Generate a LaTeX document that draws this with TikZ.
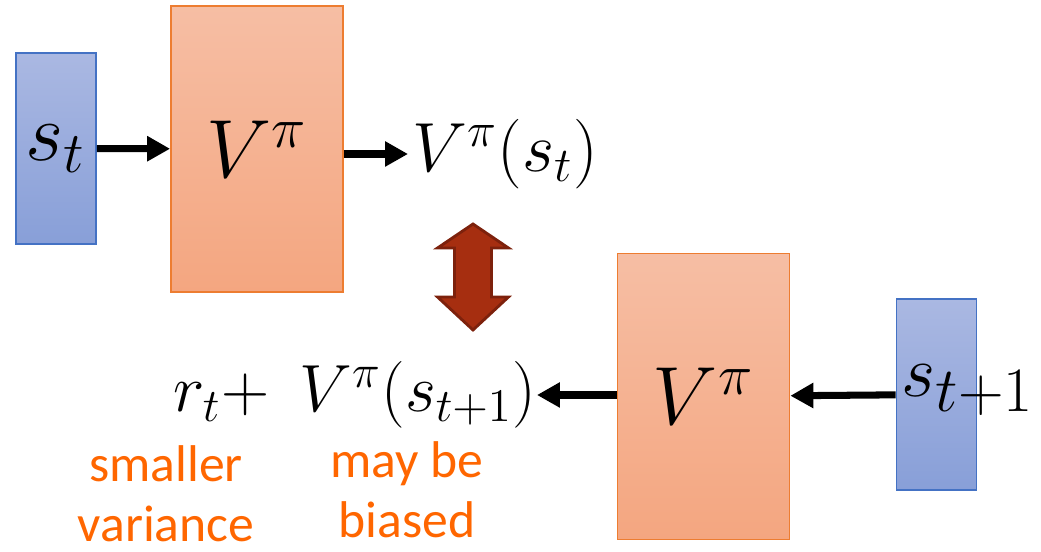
\RequirePackage{fix-cm}
\documentclass[tikz,border=0pt]{standalone}
\usepackage{fontspec}
\newfontfamily\notefont{Carlito}
\usetikzlibrary{arrows.meta}
\definecolor{statetop}{RGB}{170,184,226}
\definecolor{statebot}{RGB}{136,159,216}
\definecolor{stateedge}{RGB}{68,114,196}
\definecolor{critictop}{RGB}{246,190,164}
\definecolor{criticbot}{RGB}{244,166,128}
\definecolor{criticedge}{RGB}{237,125,49}
\definecolor{cmpfill}{RGB}{166,46,16}
\definecolor{cmpedge}{RGB}{125,33,12}
\definecolor{noteorange}{RGB}{255,102,0}

\begin{document}
\begin{tikzpicture}[>={Triangle[length=0.23cm,width=0.24cm]},
    state/.style={draw=stateedge, line width=0.5pt, top color=statetop, bottom color=statebot,
        minimum width=0.8cm, minimum height=1.91cm, inner sep=0pt},
    critic/.style={draw=criticedge, line width=0.5pt, top color=critictop, bottom color=criticbot,
        minimum width=1.72cm, minimum height=2.86cm, inner sep=0pt,
        font=\fontsize{23.5}{28}\selectfont},
    feed/.style={->, line width=2pt},
    note/.style={text=noteorange, font=\notefont\fontsize{14.7}{17}\selectfont, align=center}]
    \useasboundingbox (0,0) rectangle (10.41,-5.52);
    % top row
    \node[state, font=\fontsize{23.5}{28}\selectfont] (st) at (0.56,-1.485) {$s_t$};
    \node[critic] (vnow) at (2.57,-1.49) {$V^{\pi}$};
    \node[anchor=west, inner sep=1pt, font=\fontsize{19.8}{23}\selectfont] (vst) at (4.08,-1.54) {$V^{\pi}(s_t)$};
    \draw[feed] (st) -- (vnow);
    \draw[feed] (vnow.east |- vst.west) -- (vst.west);
    % compare
    \draw[cmpedge, fill=cmpfill, line width=0.8pt]
        (4.73,-2.24) -- (5.085,-2.48) -- (4.915,-2.48) -- (4.915,-2.97) -- (5.085,-2.97)
        -- (4.73,-3.30) -- (4.375,-2.97) -- (4.545,-2.97) -- (4.545,-2.48) -- (4.375,-2.48) -- cycle;
    % bottom row
    \node[state] (snext) at (9.365,-3.945) {};
    \node[anchor=west, inner sep=0pt, font=\fontsize{21}{25}\selectfont] (snexttxt) at (9.01,-3.90)
        {$s_{\mbox{\fontsize{18}{21}\selectfont$t{+}1$}}$};
    \node[critic] (vnext) at (7.035,-3.965) {$V^{\pi}$};
    \node[anchor=east, inner sep=0pt, font=\fontsize{19}{23}\selectfont] (target) at (5.37,-3.95)
        {$r_t{+}\hspace{0.45em}V^{\pi}(s_{t+1})$};
    \draw[feed] (snext) -- (vnext);
    \draw[feed] (vnext.west |- target.east) -- (target.east);
    \node[note] (varnote) at (1.66,-4.94) {smaller\\variance};
    \node[note] (biasnote) at (4.07,-4.90) {may be\\biased};
\end{tikzpicture}
\end{document}
